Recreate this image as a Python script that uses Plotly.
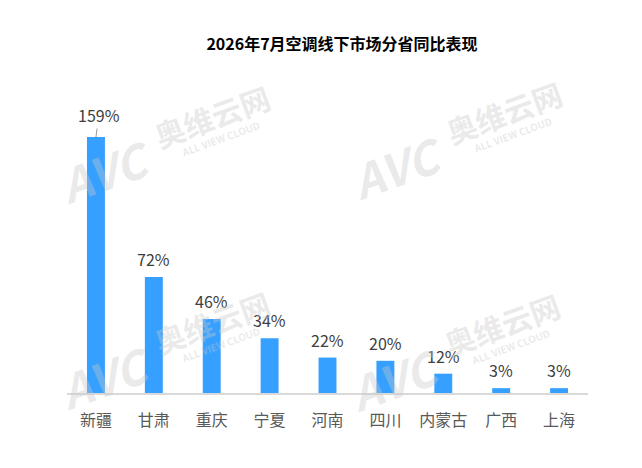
import plotly.graph_objects as go

# data
provinces = ['新疆', '甘肃', '重庆', '宁夏', '河南', '四川', '内蒙古', '广西', '上海']
yoy_pct = [159, 72, 46, 34, 22, 20, 12, 3, 3]
labels = [str(v) + '%' for v in yoy_pct]

FONT = 'Noto Sans CJK SC, Microsoft YaHei, sans-serif'
BAR_COLOR = '#35a0ff'

# the page body adds an 8px margin, so draw a slightly smaller figure
OFF = 8
W, H = 642 - OFF, 468 - OFF
L, R, T, B = 67 - OFF, 54, 80 - OFF, 75


def px(x, y):
    # reference-screen pixel -> paper fraction
    x, y = x - OFF, y - OFF
    return (x - L) / (W - L - R), 1 - (y - T) / (H - T - B)


fig = go.Figure()
fig.add_trace(go.Bar(
    x=provinces,
    y=yoy_pct,
    marker_color=BAR_COLOR,
    marker_line_width=0,
    width=0.31,
    hoverinfo='x+y',
))

# value labels above the bars (first one has a small leader line)
for i, (p, v, t) in enumerate(zip(provinces, yoy_pct, labels)):
    if i == 0:
        fig.add_annotation(x=p, y=v, text=t, showarrow=True, arrowhead=0,
                           arrowwidth=1, arrowcolor='#9a9a9a', ax=3, ay=-22,
                           font=dict(family=FONT, size=16, color='#404040'))
    else:
        fig.add_annotation(x=p, y=v, text=t, showarrow=False, yanchor='middle',
                           yshift=18, font=dict(family=FONT, size=16, color='#404040'))

# faint watermark logos
wm_color = 'rgba(200,200,200,0.38)'
for cx, cy in [(0, 0), (292, -4), (0, 206), (290, 208)]:
    for txt, dx, dy, size in [('<b><i>AVC</i></b>', 105, 170, 46),
                              ('<b>奥维云网</b>', 212, 116, 30),
                              ('<b>ALL VIEW CLOUD</b>', 220, 138, 10)]:
        xx, yy = px(dx + cx, dy + cy)
        fig.add_annotation(x=xx, y=yy, xref='paper', yref='paper', text=txt,
                           xanchor='center', yanchor='middle',
                           showarrow=False, textangle=-20,
                           font=dict(family=FONT, size=size, color=wm_color))

fig.update_layout(
    title=dict(text='<b>2026年7月空调线下市场分省同比表现</b>', x=(342 - OFF) / W,
               xanchor='center', y=1 - (44 - OFF) / H, yanchor='middle',
               font=dict(family=FONT, size=16, color='#000000')),
    width=W,
    height=H,
    margin=dict(l=L, r=R, t=T, b=B),
    paper_bgcolor='white',
    plot_bgcolor='white',
    showlegend=False,
)
fig.update_xaxes(
    showline=True, linecolor='#d9d9d9', linewidth=1.5,
    showgrid=False, ticks='', ticklabelstandoff=12,
    tickfont=dict(family=FONT, size=16, color='#595959'),
)
fig.update_yaxes(
    range=[0, 194.4], showgrid=False, zeroline=False,
    showticklabels=False, showline=False,
)

fig.write_html('out.html')
